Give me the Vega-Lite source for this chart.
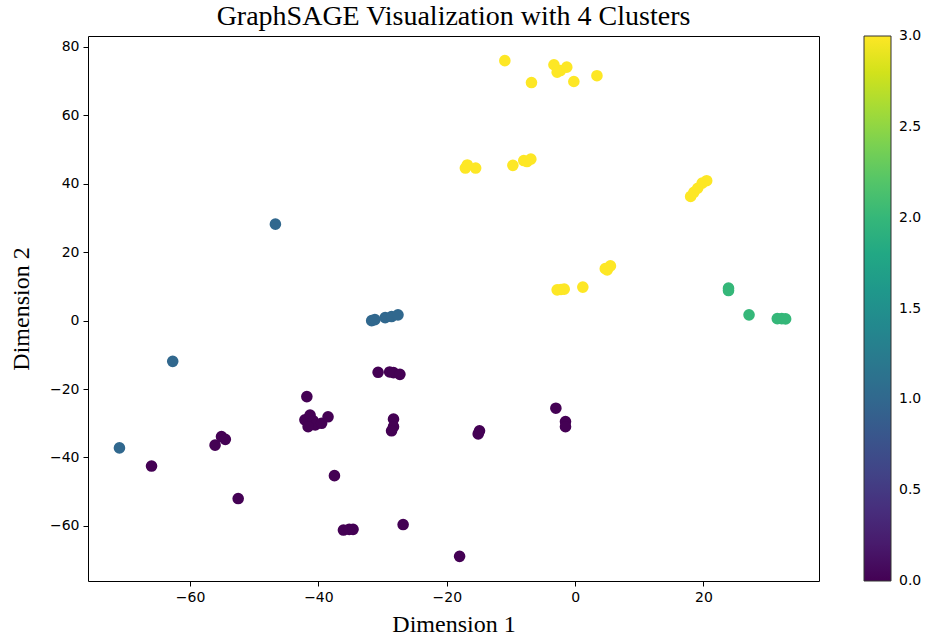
{
  "$schema": "https://vega.github.io/schema/vega-lite/v6.json",
  "autosize": {"type": "none"},
  "width": 731,
  "height": 545,
  "padding": {"left": 88, "top": 36, "right": 114, "bottom": 60},
  "background": "white",
  "title": {
    "text": "GraphSAGE Visualization with 4 Clusters",
    "font": "Liberation Serif",
    "fontSize": 28,
    "fontWeight": "normal",
    "color": "black",
    "anchor": "middle",
    "frame": "group",
    "offset": 5
  },
  "config": {
    "view": {"stroke": "black", "strokeWidth": 1},
    "axis": {
      "grid": false,
      "domain": false,
      "tickColor": "black",
      "tickSize": 5,
      "labelFont": "DejaVu Sans",
      "labelFontSize": 14,
      "labelColor": "black",
      "labelPadding": 4,
      "titleFont": "Liberation Serif",
      "titleFontSize": 24,
      "titleFontWeight": "normal",
      "titleColor": "black"
    }
  },
  "data": {
    "values": [
      {"x": -10.95, "y": 76.0, "cluster": 3},
      {"x": -6.8, "y": 69.6, "cluster": 3},
      {"x": -3.3, "y": 74.8, "cluster": 3},
      {"x": -2.3, "y": 73.1, "cluster": 3},
      {"x": -2.8, "y": 72.6, "cluster": 3},
      {"x": -1.3, "y": 74.1, "cluster": 3},
      {"x": -0.2, "y": 69.9, "cluster": 3},
      {"x": 3.4, "y": 71.6, "cluster": 3},
      {"x": -17.1, "y": 44.6, "cluster": 3},
      {"x": -16.8, "y": 45.5, "cluster": 3},
      {"x": -15.5, "y": 44.6, "cluster": 3},
      {"x": -9.7, "y": 45.4, "cluster": 3},
      {"x": -8.0, "y": 46.8, "cluster": 3},
      {"x": -7.5, "y": 46.5, "cluster": 3},
      {"x": -6.9, "y": 47.2, "cluster": 3},
      {"x": -2.8, "y": 9.0, "cluster": 3},
      {"x": -2.2, "y": 9.1, "cluster": 3},
      {"x": -1.7, "y": 9.2, "cluster": 3},
      {"x": 1.2, "y": 9.8, "cluster": 3},
      {"x": 4.7, "y": 15.2, "cluster": 3},
      {"x": 5.0, "y": 14.8, "cluster": 3},
      {"x": 5.5, "y": 16.0, "cluster": 3},
      {"x": 18.0, "y": 36.3, "cluster": 3},
      {"x": 18.5, "y": 37.5, "cluster": 3},
      {"x": 19.1, "y": 38.7, "cluster": 3},
      {"x": 19.8, "y": 40.2, "cluster": 3},
      {"x": 20.5, "y": 40.9, "cluster": 3},
      {"x": 23.9, "y": 9.5, "cluster": 2},
      {"x": 23.9, "y": 8.8, "cluster": 2},
      {"x": 27.1, "y": 1.7, "cluster": 2},
      {"x": 31.5, "y": 0.6, "cluster": 2},
      {"x": 32.2, "y": 0.6, "cluster": 2},
      {"x": 32.8, "y": 0.5, "cluster": 2},
      {"x": -46.7, "y": 28.2, "cluster": 1},
      {"x": -62.7, "y": -11.9, "cluster": 1},
      {"x": -71.0, "y": -37.2, "cluster": 1},
      {"x": -31.7, "y": 0.0, "cluster": 1},
      {"x": -31.2, "y": 0.3, "cluster": 1},
      {"x": -29.6, "y": 0.9, "cluster": 1},
      {"x": -28.6, "y": 1.2, "cluster": 1},
      {"x": -27.6, "y": 1.7, "cluster": 1},
      {"x": -30.7, "y": -15.1, "cluster": 0},
      {"x": -28.9, "y": -15.0, "cluster": 0},
      {"x": -28.3, "y": -15.2, "cluster": 0},
      {"x": -27.3, "y": -15.7, "cluster": 0},
      {"x": -41.8, "y": -22.2, "cluster": 0},
      {"x": -42.1, "y": -29.0, "cluster": 0},
      {"x": -41.3, "y": -27.6, "cluster": 0},
      {"x": -40.8, "y": -29.3, "cluster": 0},
      {"x": -40.5, "y": -30.5, "cluster": 0},
      {"x": -39.5, "y": -30.0, "cluster": 0},
      {"x": -38.5, "y": -28.1, "cluster": 0},
      {"x": -41.6, "y": -31.0, "cluster": 0},
      {"x": -66.0, "y": -42.5, "cluster": 0},
      {"x": -56.1, "y": -36.4, "cluster": 0},
      {"x": -55.1, "y": -33.9, "cluster": 0},
      {"x": -54.5, "y": -34.7, "cluster": 0},
      {"x": -52.5, "y": -52.0, "cluster": 0},
      {"x": -37.5, "y": -45.3, "cluster": 0},
      {"x": -28.3, "y": -28.8, "cluster": 0},
      {"x": -28.3, "y": -31.0, "cluster": 0},
      {"x": -28.6, "y": -32.2, "cluster": 0},
      {"x": -14.9, "y": -32.2, "cluster": 0},
      {"x": -15.1, "y": -33.1, "cluster": 0},
      {"x": -36.1, "y": -61.2, "cluster": 0},
      {"x": -35.2, "y": -61.0, "cluster": 0},
      {"x": -34.6, "y": -61.0, "cluster": 0},
      {"x": -26.8, "y": -59.6, "cluster": 0},
      {"x": -18.0, "y": -68.9, "cluster": 0},
      {"x": -3.0, "y": -25.6, "cluster": 0},
      {"x": -1.5, "y": -29.5, "cluster": 0},
      {"x": -1.5, "y": -31.0, "cluster": 0}
    ]
  },
  "mark": {"type": "circle", "size": 135, "opacity": 1},
  "encoding": {
    "x": {
      "field": "x",
      "type": "quantitative",
      "scale": {"domain": [-75.9, 38.0], "nice": false, "zero": false},
      "axis": {"values": [-60, -40, -20, 0, 20], "title": "Dimension 1", "titlePadding": 8}
    },
    "y": {
      "field": "y",
      "type": "quantitative",
      "scale": {"domain": [-76.1, 83.2], "nice": false, "zero": false},
      "axis": {"values": [-60, -40, -20, 0, 20, 40, 60, 80], "title": "Dimension 2", "titlePadding": 16}
    },
    "color": {
      "field": "cluster",
      "type": "quantitative",
      "scale": {"scheme": "viridis", "domain": [0, 3]},
      "legend": {
        "title": null,
        "orient": "none",
        "legendX": 776,
        "legendY": 0,
        "direction": "vertical",
        "gradientLength": 545,
        "gradientThickness": 27,
        "gradientStrokeColor": "#333333",
        "gradientStrokeWidth": 1,
        "values": [0, 0.5, 1, 1.5, 2, 2.5, 3],
        "format": ".1f",
        "labelFont": "DejaVu Sans",
        "labelFontSize": 14,
        "labelColor": "black",
        "labelOffset": 8,
        "labelBaseline": "middle",
        "labelOverlap": false,
        "encoding": {"labels": {"baseline": {"value": "middle"}}}
      }
    }
  }
}
